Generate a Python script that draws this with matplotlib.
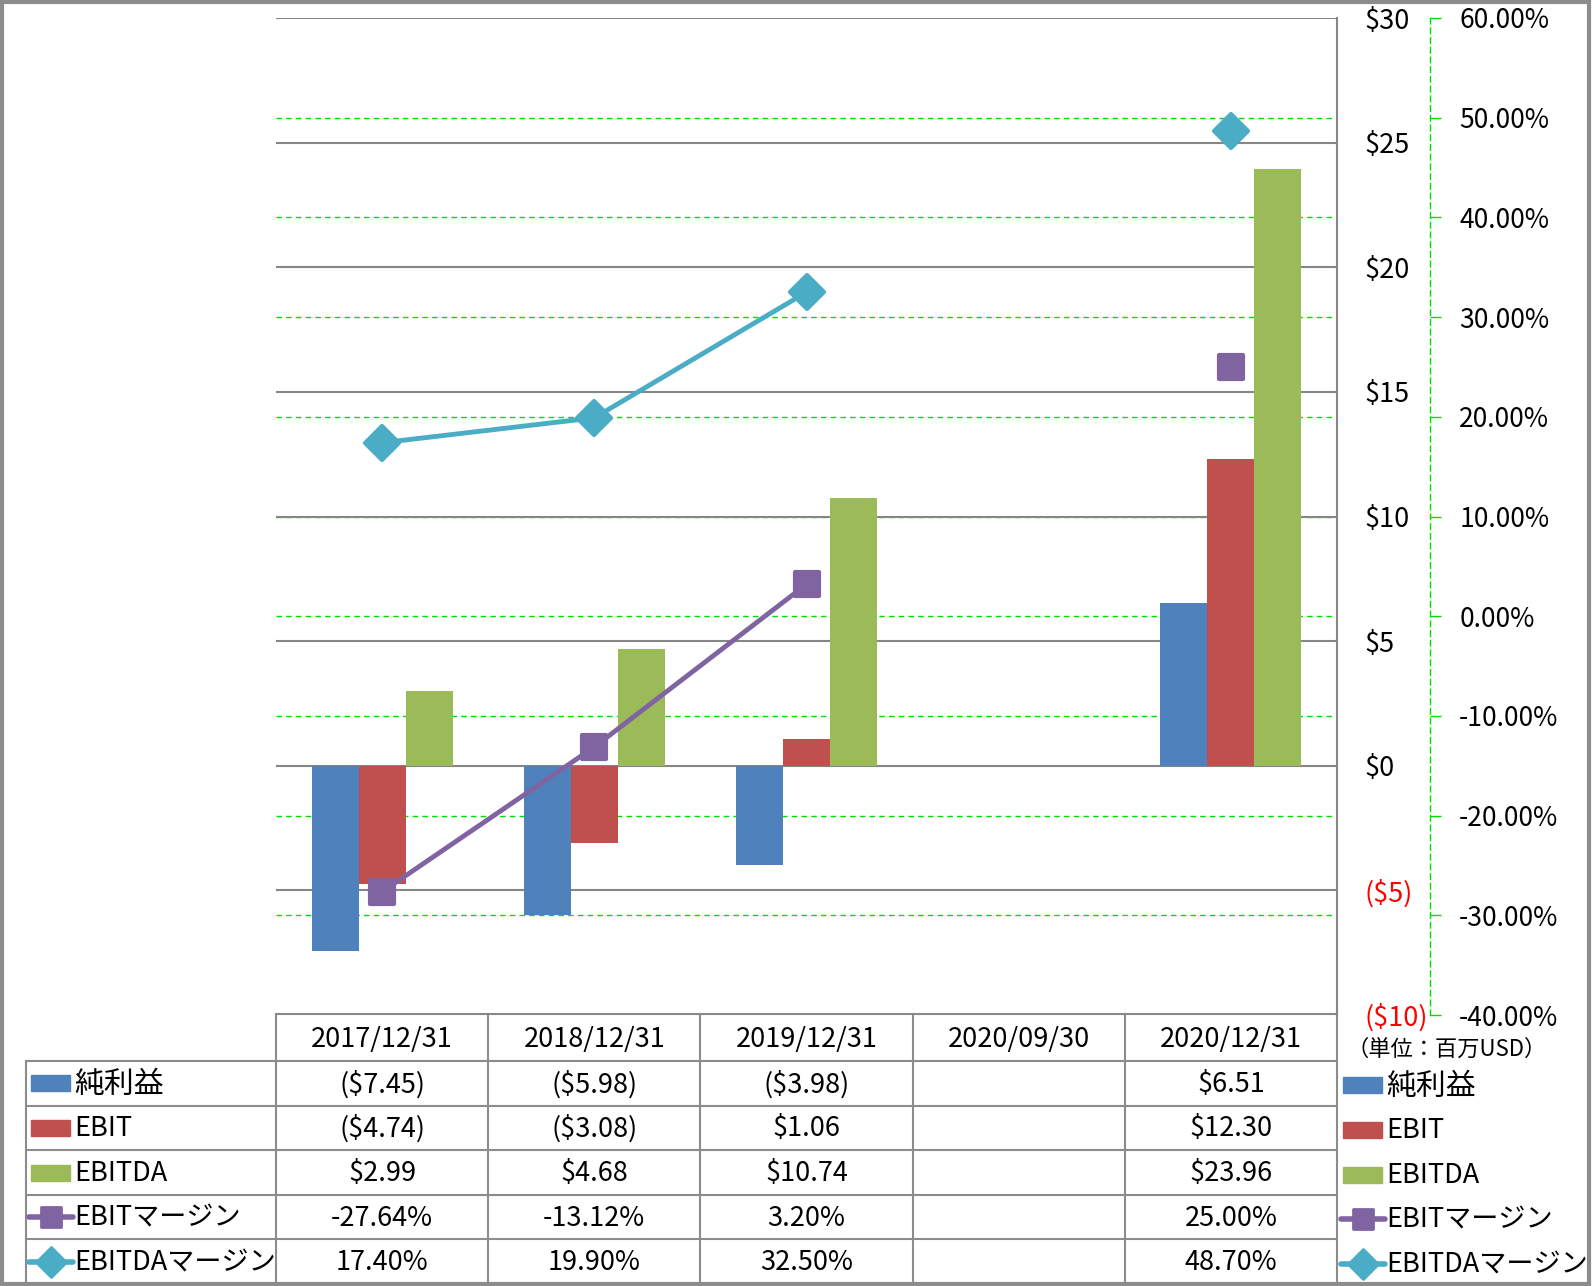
import numpy as np
import matplotlib.pyplot as plt
from matplotlib.lines import Line2D
from matplotlib.patches import Rectangle
from matplotlib.markers import MarkerStyle
from matplotlib.transforms import blended_transform_factory

plt.rcParams['font.family'] = ['Noto Sans CJK JP', 'DejaVu Sans']

# data
dates = ['2017/12/31', '2018/12/31', '2019/12/31', '2020/09/30', '2020/12/31']
net_income = [-7.45, -5.98, -3.98, np.nan, 6.51]
ebit = [-4.74, -3.08, 1.06, np.nan, 12.30]
ebitda = [2.99, 4.68, 10.74, np.nan, 23.96]
ebit_margin = [-27.64, -13.12, 3.20, np.nan, 25.00]
ebitda_margin = [17.40, 19.90, 32.50, np.nan, 48.70]

usd_ticks = [-10, -5, 0, 5, 10, 15, 20, 25, 30]
pct_ticks = [-40, -30, -20, -10, 0, 10, 20, 30, 40, 50, 60]
unit_note = '（単位：百万USD）'

c_net = '#4F81BD'
c_ebit = '#C0504D'
c_ebitda = '#9BBB59'
c_em = '#8064A2'
c_edm = '#4BACC6'
grid_gray = '#868686'
green = '#00E000'

W, H = 1592, 1286
fig = plt.figure(figsize=(W / 100, H / 100), dpi=100)

# plot area in pixels
px_l, px_r, px_t, px_b = 276, 1337, 18, 1015
ax1 = fig.add_axes([px_l / W, 1 - px_b / H, (px_r - px_l) / W, (px_b - px_t) / H])
ax2 = ax1.twinx()

x = np.arange(len(dates))
bw = 0.2215
ax1.bar(x - bw, net_income, bw, color=c_net, zorder=2)
ax1.bar(x, ebit, bw, color=c_ebit, zorder=2)
ax1.bar(x + bw, ebitda, bw, color=c_ebitda, zorder=2)

ax1.set_xlim(-0.5, len(dates) - 0.5)
ax1.set_ylim(-10, 30)
ax2.set_ylim(-40, 60)
ax1.set_xticks([])

# gray primary grid
for v in usd_ticks:
    ax1.axhline(v, color=grid_gray, lw=1.5, zorder=0.8)
# green secondary grid (under bars)
tr = blended_transform_factory(ax1.transAxes, ax2.transData)
for p in pct_ticks[1:-1]:
    ax1.plot([0, 1], [p, p], transform=tr, color=green, lw=1.0, ls=(0, (4, 3)), zorder=0.7)

def usd_fmt(v):
    if v < 0:
        return '(${})'.format(-v)
    return '${}'.format(v)

ax1.yaxis.tick_right()
ax1.set_yticks(usd_ticks, [usd_fmt(v) for v in usd_ticks])
ax1.tick_params(axis='y', length=0, pad=20, labelsize=19.5)
for lab, v in zip(ax1.get_yticklabels(), usd_ticks):
    lab.set_color('#FF0000' if v < 0 else 'black')

ax2.set_yticks(pct_ticks, ['{:.2f}%'.format(p) for p in pct_ticks])
ax2.tick_params(axis='y', length=8, width=1, color=green, pad=13, labelsize=19)
for lab, p in zip(ax2.get_yticklabels(), pct_ticks):
    lab.set_color('#FF0000' if p < 0 else 'black')

for s in ['left', 'top', 'bottom']:
    ax1.spines[s].set_visible(False)
    ax2.spines[s].set_visible(False)
ax1.spines['right'].set_color(grid_gray)
ax1.spines['right'].set_linewidth(1.5)
ax2.spines['right'].set_position(('outward', 67))
ax2.spines['right'].set_color(green)
ax2.spines['right'].set_linestyle((0, (4, 3)))
ax2.spines['right'].set_linewidth(1.0)

sq = MarkerStyle('s', joinstyle='round')
dm = MarkerStyle('D', joinstyle='round')
ax2.plot(x, ebit_margin, color=c_em, lw=3.5, marker=sq, ms=17, mew=3, mec=c_em, zorder=3)
ax2.plot(x, ebitda_margin, color=c_edm, lw=3.5, marker=dm, ms=17.5, mew=3, mec=c_edm, zorder=3)
ax1.patch.set_visible(False)

# overlay canvas in pixel coords for table, legend, frame
cv = fig.add_axes([0, 0, 1, 1], zorder=-1)
cv.set_xlim(0, W)
cv.set_ylim(H, 0)
cv.axis('off')
cv.add_patch(Rectangle((1.5, 1.5), 1587, 1282, fill=False, ec='#8C8C8C', lw=3))

tb_top, hdr_b, tb_b = 1014, 1061, 1284
lbl_l = 26
col_w = (px_r - px_l) / len(dates)
row_h = (tb_b - hdr_b) / 5
tc = '#8C8C8C'
cv.plot([px_l, px_r], [tb_top, tb_top], color=tc, lw=1.5)
for i in range(5):
    yy = hdr_b + i * row_h
    cv.plot([lbl_l, px_r], [yy, yy], color=tc, lw=1.5)
cv.plot([lbl_l, lbl_l], [hdr_b, tb_b], color=tc, lw=1.5)
for k in range(len(dates) + 1):
    xx = px_l + k * col_w
    cv.plot([xx, xx], [tb_top, tb_b], color=tc, lw=1.5)

fs = 19.5
for k, d in enumerate(dates):
    cv.text(px_l + (k + 0.5) * col_w, (tb_top + hdr_b) / 2 + 2, d, ha='center', va='center', fontsize=fs)

def money(v):
    if np.isnan(v):
        return ''
    return '(${:.2f})'.format(-v) if v < 0 else '${:.2f}'.format(v)

def pct(v):
    if np.isnan(v):
        return ''
    return '{:.2f}%'.format(v)

rows = [
    ('純利益', [money(v) for v in net_income], 'bar', c_net),
    ('EBIT', [money(v) for v in ebit], 'bar', c_ebit),
    ('EBITDA', [money(v) for v in ebitda], 'bar', c_ebitda),
    ('EBITマージン', [pct(v) for v in ebit_margin], sq, c_em),
    ('EBITDAマージン', [pct(v) for v in ebitda_margin], dm, c_edm),
]

def key(xk, yc, kind, col):
    if kind == 'bar':
        cv.add_patch(Rectangle((xk + 3, yc - 8), 39, 16, color=col))
    else:
        cv.add_line(Line2D([xk + 1, xk + 45], [yc, yc], color=col, lw=4, solid_capstyle='round'))
        cv.add_line(Line2D([xk + 23], [yc], color=col, marker=kind, ms=15 if kind is sq else 15,
                           mew=2, mec=col))

for i, (name, vals, kind, col) in enumerate(rows):
    yc = hdr_b + (i + 0.5) * row_h
    fsn = fs + 2 if i == 0 else fs
    key(lbl_l + 2, yc, kind, col)
    cv.text(lbl_l + 48, yc + 1, name, ha='left', va='center', fontsize=fsn)
    for k, s in enumerate(vals):
        cv.text(px_l + (k + 0.5) * col_w, yc + 1, s, ha='center', va='center', fontsize=fs)
    # right legend
    key(1340, yc + 2, kind, col)
    cv.text(1386, yc + 3, name, ha='left', va='center', fontsize=fsn)

cv.text(1447, 1049, unit_note, ha='center', va='center', fontsize=16)

fig.savefig('out.png', dpi=100)
